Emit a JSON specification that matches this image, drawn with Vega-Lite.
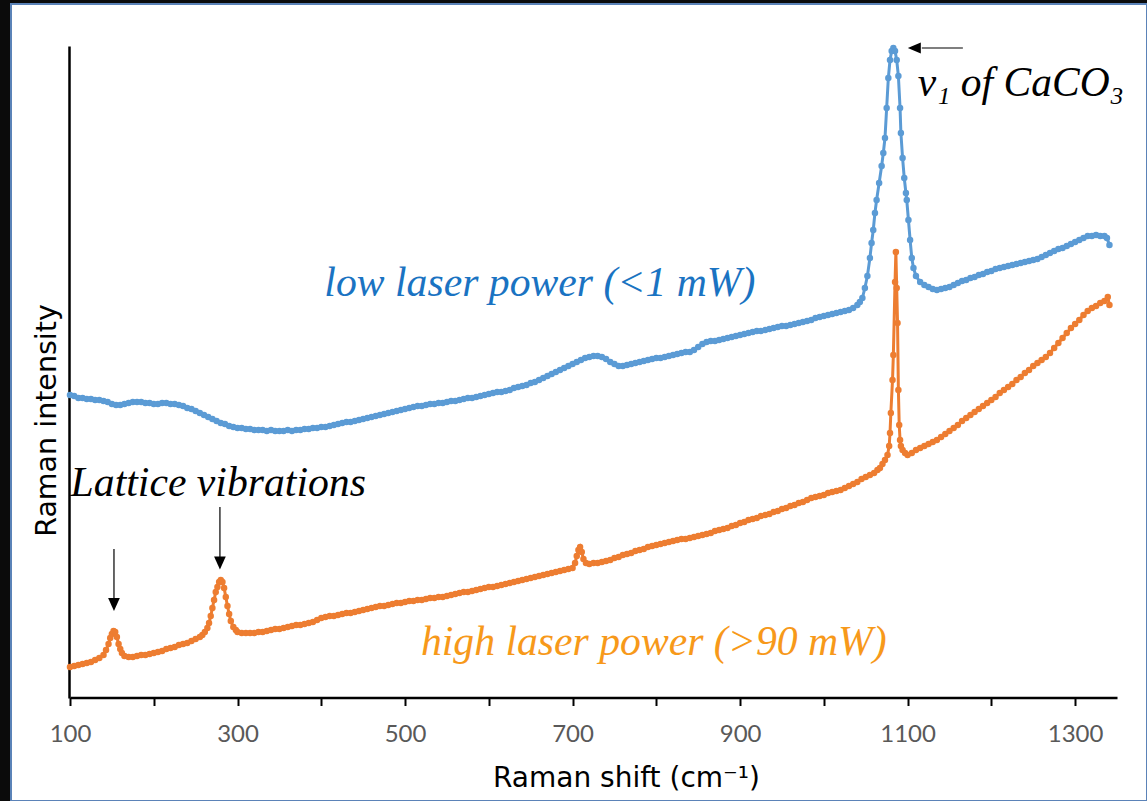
{
"$schema": "https://vega.github.io/schema/vega-lite/v6.json",
"width": 1136,
"height": 797,
"autosize": {"type": "none"},
"padding": {"left": 11, "top": 4, "right": 0, "bottom": 0},
"background": "#0b0b0b",
"config": {"view": {"fill": "white", "stroke": "#5B83B8", "strokeWidth": 2}},
"datasets": {
"low": [{"x":100,"y":303},{"x":105,"y":302},{"x":110,"y":300},{"x":115,"y":300},{"x":120,"y":299},{"x":125,"y":299},{"x":130,"y":298},{"x":135,"y":298},{"x":140,"y":297},{"x":145,"y":296},{"x":150,"y":294},{"x":155,"y":293},{"x":160,"y":293},{"x":165,"y":294},{"x":170,"y":295},{"x":175,"y":296},{"x":180,"y":296},{"x":185,"y":296},{"x":190,"y":295},{"x":195,"y":295},{"x":200,"y":294},{"x":205,"y":294},{"x":210,"y":295},{"x":215,"y":295},{"x":220,"y":294},{"x":225,"y":294},{"x":230,"y":293},{"x":235,"y":292},{"x":240,"y":290},{"x":245,"y":289},{"x":250,"y":287},{"x":255,"y":285},{"x":260,"y":283},{"x":265,"y":281},{"x":270,"y":279},{"x":275,"y":277},{"x":280,"y":275},{"x":285,"y":274},{"x":290,"y":272},{"x":295,"y":271},{"x":300,"y":270},{"x":305,"y":270},{"x":310,"y":269},{"x":315,"y":269},{"x":320,"y":268},{"x":325,"y":268},{"x":330,"y":268},{"x":335,"y":267},{"x":340,"y":268},{"x":345,"y":267},{"x":350,"y":267},{"x":355,"y":267},{"x":360,"y":268},{"x":365,"y":267},{"x":370,"y":268},{"x":375,"y":268},{"x":380,"y":269},{"x":385,"y":269},{"x":390,"y":270},{"x":395,"y":270},{"x":400,"y":271},{"x":405,"y":271},{"x":410,"y":272},{"x":415,"y":273},{"x":420,"y":274},{"x":425,"y":275},{"x":430,"y":276},{"x":435,"y":276},{"x":440,"y":277},{"x":445,"y":278},{"x":450,"y":279},{"x":455,"y":280},{"x":460,"y":281},{"x":465,"y":282},{"x":470,"y":283},{"x":475,"y":284},{"x":480,"y":285},{"x":485,"y":286},{"x":490,"y":287},{"x":495,"y":288},{"x":500,"y":289},{"x":505,"y":290},{"x":510,"y":291},{"x":515,"y":292},{"x":520,"y":292},{"x":525,"y":293},{"x":530,"y":294},{"x":535,"y":294},{"x":540,"y":295},{"x":545,"y":295},{"x":550,"y":296},{"x":555,"y":297},{"x":560,"y":297},{"x":565,"y":298},{"x":570,"y":299},{"x":575,"y":300},{"x":580,"y":300},{"x":585,"y":301},{"x":590,"y":302},{"x":595,"y":303},{"x":600,"y":304},{"x":605,"y":305},{"x":610,"y":306},{"x":615,"y":306},{"x":620,"y":307},{"x":625,"y":308},{"x":630,"y":310},{"x":635,"y":311},{"x":640,"y":312},{"x":645,"y":313},{"x":650,"y":315},{"x":655,"y":316},{"x":660,"y":318},{"x":665,"y":320},{"x":670,"y":322},{"x":675,"y":324},{"x":680,"y":326},{"x":685,"y":328},{"x":690,"y":330},{"x":695,"y":332},{"x":700,"y":334},{"x":705,"y":336},{"x":710,"y":338},{"x":715,"y":340},{"x":720,"y":341},{"x":725,"y":342},{"x":730,"y":342},{"x":735,"y":341},{"x":740,"y":339},{"x":745,"y":336},{"x":750,"y":334},{"x":755,"y":332},{"x":760,"y":332},{"x":765,"y":333},{"x":770,"y":334},{"x":775,"y":335},{"x":780,"y":336},{"x":785,"y":337},{"x":790,"y":338},{"x":795,"y":339},{"x":800,"y":340},{"x":805,"y":340},{"x":810,"y":341},{"x":815,"y":342},{"x":820,"y":343},{"x":825,"y":344},{"x":830,"y":345},{"x":835,"y":346},{"x":840,"y":346},{"x":845,"y":348},{"x":850,"y":351},{"x":855,"y":354},{"x":860,"y":356},{"x":865,"y":357},{"x":870,"y":357},{"x":875,"y":358},{"x":880,"y":359},{"x":885,"y":360},{"x":890,"y":361},{"x":895,"y":362},{"x":900,"y":363},{"x":905,"y":364},{"x":910,"y":365},{"x":915,"y":366},{"x":920,"y":367},{"x":925,"y":367},{"x":930,"y":368},{"x":935,"y":369},{"x":940,"y":370},{"x":945,"y":371},{"x":950,"y":372},{"x":955,"y":372},{"x":960,"y":373},{"x":965,"y":374},{"x":970,"y":375},{"x":975,"y":376},{"x":980,"y":377},{"x":985,"y":378},{"x":990,"y":380},{"x":995,"y":381},{"x":1000,"y":382},{"x":1005,"y":383},{"x":1010,"y":384},{"x":1015,"y":385},{"x":1020,"y":386},{"x":1025,"y":387},{"x":1030,"y":388},{"x":1035,"y":390},{"x":1040,"y":393},{"x":1043,"y":396},{"x":1046,"y":400},{"x":1049,"y":410},{"x":1052,"y":422},{"x":1055,"y":440},{"x":1057,"y":455},{"x":1059,"y":468},{"x":1061,"y":485},{"x":1063,"y":498},{"x":1066,"y":515},{"x":1069,"y":532},{"x":1071,"y":545},{"x":1073,"y":560},{"x":1075,"y":590},{"x":1077,"y":620},{"x":1079,"y":638},{"x":1081,"y":647},{"x":1083,"y":650},{"x":1085,"y":647},{"x":1087,"y":638},{"x":1089,"y":622},{"x":1091,"y":590},{"x":1092,"y":565},{"x":1094,"y":540},{"x":1096,"y":520},{"x":1098,"y":505},{"x":1099,"y":498},{"x":1101,"y":478},{"x":1103,"y":458},{"x":1105,"y":440},{"x":1107,"y":430},{"x":1110,"y":422},{"x":1115,"y":416},{"x":1120,"y":413},{"x":1125,"y":411},{"x":1130,"y":409},{"x":1135,"y":408},{"x":1140,"y":409},{"x":1145,"y":410},{"x":1150,"y":411},{"x":1155,"y":413},{"x":1160,"y":415},{"x":1165,"y":417},{"x":1170,"y":418},{"x":1175,"y":420},{"x":1180,"y":421},{"x":1185,"y":423},{"x":1190,"y":424},{"x":1195,"y":426},{"x":1200,"y":427},{"x":1205,"y":429},{"x":1210,"y":430},{"x":1215,"y":431},{"x":1220,"y":432},{"x":1225,"y":433},{"x":1230,"y":434},{"x":1235,"y":435},{"x":1240,"y":436},{"x":1245,"y":437},{"x":1250,"y":438},{"x":1255,"y":439},{"x":1260,"y":441},{"x":1265,"y":443},{"x":1270,"y":445},{"x":1275,"y":447},{"x":1280,"y":449},{"x":1285,"y":450},{"x":1290,"y":452},{"x":1295,"y":454},{"x":1300,"y":456},{"x":1305,"y":458},{"x":1310,"y":460},{"x":1315,"y":462},{"x":1320,"y":462},{"x":1325,"y":463},{"x":1330,"y":462},{"x":1335,"y":462},{"x":1338,"y":460},{"x":1341,"y":453}],
"high": [{"x":100,"y":31},{"x":105,"y":32},{"x":110,"y":33},{"x":115,"y":34},{"x":120,"y":35},{"x":125,"y":36},{"x":130,"y":38},{"x":135,"y":40},{"x":140,"y":43},{"x":143,"y":48},{"x":146,"y":54},{"x":148,"y":60},{"x":150,"y":64},{"x":152,"y":67},{"x":154,"y":66},{"x":156,"y":61},{"x":158,"y":54},{"x":160,"y":49},{"x":162,"y":45},{"x":165,"y":42},{"x":170,"y":41},{"x":175,"y":41},{"x":180,"y":42},{"x":185,"y":43},{"x":190,"y":43},{"x":195,"y":44},{"x":200,"y":45},{"x":205,"y":46},{"x":210,"y":47},{"x":215,"y":49},{"x":220,"y":50},{"x":225,"y":51},{"x":230,"y":53},{"x":235,"y":54},{"x":240,"y":55},{"x":245,"y":57},{"x":250,"y":59},{"x":255,"y":61},{"x":258,"y":63},{"x":261,"y":66},{"x":264,"y":70},{"x":266,"y":75},{"x":268,"y":82},{"x":270,"y":90},{"x":272,"y":98},{"x":274,"y":106},{"x":276,"y":111},{"x":278,"y":116},{"x":280,"y":118},{"x":282,"y":116},{"x":284,"y":110},{"x":286,"y":101},{"x":288,"y":92},{"x":290,"y":84},{"x":292,"y":77},{"x":295,"y":71},{"x":298,"y":68},{"x":300,"y":66},{"x":305,"y":65},{"x":310,"y":65},{"x":315,"y":65},{"x":320,"y":65},{"x":325,"y":66},{"x":330,"y":66},{"x":335,"y":67},{"x":340,"y":68},{"x":345,"y":69},{"x":350,"y":69},{"x":355,"y":70},{"x":360,"y":71},{"x":365,"y":72},{"x":370,"y":73},{"x":375,"y":73},{"x":380,"y":74},{"x":385,"y":75},{"x":390,"y":76},{"x":395,"y":78},{"x":400,"y":80},{"x":405,"y":81},{"x":410,"y":82},{"x":415,"y":82},{"x":420,"y":83},{"x":425,"y":84},{"x":430,"y":85},{"x":435,"y":85},{"x":440,"y":86},{"x":445,"y":87},{"x":450,"y":88},{"x":455,"y":89},{"x":460,"y":90},{"x":465,"y":91},{"x":470,"y":92},{"x":475,"y":92},{"x":480,"y":93},{"x":485,"y":94},{"x":490,"y":95},{"x":495,"y":95},{"x":500,"y":96},{"x":505,"y":97},{"x":510,"y":97},{"x":515,"y":98},{"x":520,"y":98},{"x":525,"y":99},{"x":530,"y":100},{"x":535,"y":100},{"x":540,"y":101},{"x":545,"y":101},{"x":550,"y":102},{"x":555,"y":103},{"x":560,"y":104},{"x":565,"y":105},{"x":570,"y":106},{"x":575,"y":106},{"x":580,"y":107},{"x":585,"y":108},{"x":590,"y":109},{"x":595,"y":110},{"x":600,"y":111},{"x":605,"y":111},{"x":610,"y":112},{"x":615,"y":113},{"x":620,"y":114},{"x":625,"y":115},{"x":630,"y":116},{"x":635,"y":117},{"x":640,"y":118},{"x":645,"y":119},{"x":650,"y":120},{"x":655,"y":121},{"x":660,"y":122},{"x":665,"y":123},{"x":670,"y":124},{"x":675,"y":125},{"x":680,"y":126},{"x":685,"y":127},{"x":690,"y":128},{"x":695,"y":129},{"x":700,"y":130},{"x":703,"y":135},{"x":705,"y":142},{"x":707,"y":148},{"x":709,"y":151},{"x":711,"y":146},{"x":713,"y":139},{"x":716,"y":135},{"x":720,"y":134},{"x":725,"y":135},{"x":730,"y":135},{"x":735,"y":136},{"x":740,"y":137},{"x":745,"y":138},{"x":750,"y":140},{"x":755,"y":141},{"x":760,"y":143},{"x":765,"y":144},{"x":770,"y":145},{"x":775,"y":147},{"x":780,"y":148},{"x":785,"y":149},{"x":790,"y":151},{"x":795,"y":152},{"x":800,"y":153},{"x":805,"y":154},{"x":810,"y":155},{"x":815,"y":156},{"x":820,"y":157},{"x":825,"y":158},{"x":830,"y":159},{"x":835,"y":159},{"x":840,"y":160},{"x":845,"y":161},{"x":850,"y":162},{"x":855,"y":163},{"x":860,"y":164},{"x":865,"y":165},{"x":870,"y":167},{"x":875,"y":168},{"x":880,"y":169},{"x":885,"y":170},{"x":890,"y":172},{"x":895,"y":173},{"x":900,"y":175},{"x":905,"y":176},{"x":910,"y":178},{"x":915,"y":179},{"x":920,"y":180},{"x":925,"y":182},{"x":930,"y":183},{"x":935,"y":184},{"x":940,"y":186},{"x":945,"y":187},{"x":950,"y":189},{"x":955,"y":190},{"x":960,"y":192},{"x":965,"y":193},{"x":970,"y":195},{"x":975,"y":196},{"x":980,"y":198},{"x":985,"y":200},{"x":990,"y":201},{"x":995,"y":202},{"x":1000,"y":203},{"x":1005,"y":205},{"x":1010,"y":206},{"x":1015,"y":207},{"x":1020,"y":208},{"x":1025,"y":210},{"x":1030,"y":212},{"x":1035,"y":214},{"x":1040,"y":216},{"x":1045,"y":219},{"x":1050,"y":221},{"x":1055,"y":223},{"x":1060,"y":225},{"x":1064,"y":228},{"x":1067,"y":230},{"x":1070,"y":234},{"x":1073,"y":238},{"x":1076,"y":243},{"x":1078,"y":252},{"x":1079,"y":265},{"x":1080,"y":285},{"x":1082,"y":318},{"x":1083,"y":343},{"x":1085,"y":416},{"x":1086,"y":446},{"x":1087,"y":410},{"x":1088,"y":375},{"x":1089,"y":308},{"x":1090,"y":273},{"x":1091,"y":258},{"x":1092,"y":252},{"x":1094,"y":248},{"x":1097,"y":245},{"x":1100,"y":243},{"x":1105,"y":245},{"x":1110,"y":248},{"x":1115,"y":250},{"x":1120,"y":252},{"x":1125,"y":254},{"x":1130,"y":256},{"x":1135,"y":258},{"x":1140,"y":261},{"x":1145,"y":264},{"x":1150,"y":267},{"x":1155,"y":270},{"x":1160,"y":273},{"x":1165,"y":277},{"x":1170,"y":280},{"x":1175,"y":283},{"x":1180,"y":286},{"x":1185,"y":289},{"x":1190,"y":292},{"x":1195,"y":295},{"x":1200,"y":298},{"x":1205,"y":301},{"x":1210,"y":305},{"x":1215,"y":308},{"x":1220,"y":311},{"x":1225,"y":314},{"x":1230,"y":318},{"x":1235,"y":321},{"x":1240,"y":325},{"x":1245,"y":328},{"x":1250,"y":332},{"x":1255,"y":335},{"x":1260,"y":338},{"x":1265,"y":341},{"x":1270,"y":345},{"x":1275,"y":350},{"x":1280,"y":355},{"x":1285,"y":360},{"x":1290,"y":365},{"x":1295,"y":370},{"x":1300,"y":374},{"x":1305,"y":378},{"x":1310,"y":383},{"x":1315,"y":387},{"x":1320,"y":390},{"x":1325,"y":392},{"x":1330,"y":395},{"x":1335,"y":397},{"x":1339,"y":401},{"x":1341,"y":393}]
},
"encoding": {
"x": {"field": "x", "type": "quantitative",
"scale": {"domain": [100, 1350], "range": [59, 1106], "nice": false, "zero": false},
"axis": {"title": "Raman shift (cm⁻¹)", "values": [100,200,300,400,500,600,700,800,900,1000,1100,1200,1300], "format": "d",
"labelExpr": "datum.value % 200 == 100 ? datum.label : ''",
"offset": -103.5, "grid": false, "domainColor": "black", "domainWidth": 2.5,
"tickColor": "black", "tickWidth": 2, "tickSize": 8,
"labelFont": "Lato", "labelFontSize": 24, "labelColor": "#595959", "labelBaseline": "alphabetic", "labelPadding": 36, "labelFlush": false, "labelOverlap": false,
"titleFont": "DejaVu Sans", "titleFontSize": 28, "titleFontWeight": "normal", "titleColor": "black",
"titleX": 615, "titleY": 88.5, "titleBaseline": "alphabetic", "titleAlign": "center"}},
"y": {"field": "y", "type": "quantitative",
"scale": {"domain": [0, 652], "range": [694, 42], "nice": false, "zero": false},
"axis": {"title": "Raman intensity", "offset": -58, "ticks": false, "labels": false, "grid": false,
"domainColor": "black", "domainWidth": 2.5,
"titleFont": "DejaVu Sans", "titleFontSize": 28.5, "titleFontWeight": "normal", "titleColor": "black",
"titleAngle": -90, "titleX": -23, "titleY": 416, "titleBaseline": "middle", "titleAlign": "center"}}
},
"layer": [
{
"data": {"name": "low"},
"mark": {"type": "line", "strokeWidth": 3, "color": "#5B9BD5", "point": {"filled": true, "size": 42, "color": "#5B9BD5", "opacity": 1}}
},
{
"data": {"name": "high"},
"mark": {"type": "line", "strokeWidth": 3, "color": "#ED7D31", "point": {"filled": true, "size": 42, "color": "#ED7D31", "opacity": 1}}
},
{
"data": {"values": [{"x": 661, "y": 402, "t": "low laser power (<1 mW)"}]},
"mark": {"type": "text", "font": "Liberation Serif", "fontStyle": "italic", "fontSize": 41.7, "color": "#1A73C2", "align": "center", "baseline": "alphabetic"},
"encoding": {"text": {"field": "t"}}
},
{
"data": {"values": [{"x": 797, "y": 43, "t": "high laser power (>90 mW)"}]},
"mark": {"type": "text", "font": "Liberation Serif", "fontStyle": "italic", "fontSize": 41.7, "color": "#F7991A", "align": "center", "baseline": "alphabetic"},
"encoding": {"text": {"field": "t"}}
},
{
"data": {"values": [{"x": 277, "y": 202, "t": "Lattice vibrations"}]},
"mark": {"type": "text", "font": "Liberation Serif", "fontStyle": "italic", "fontSize": 41.7, "color": "black", "align": "center", "baseline": "alphabetic"},
"encoding": {"text": {"field": "t"}}
},
{
"data": {"values": [{"x": 1112, "y": 602, "t": "ν₁ of CaCO₃"}]},
"mark": {"type": "text", "font": "Liberation Serif", "fontStyle": "italic", "fontSize": 41.5, "color": "black", "align": "left", "baseline": "alphabetic"},
"encoding": {"text": {"field": "t"}}
},
{
"data": {"values": [{"x": 1117, "x2": 1166, "y": 650, "y2": 650}, {"x": 152.5, "x2": 152.5, "y": 149, "y2": 100}, {"x": 279, "x2": 279, "y": 191, "y2": 141}]},
"mark": {"type": "rule", "color": "black", "strokeWidth": 1.2},
"encoding": {"x2": {"field": "x2"}, "y2": {"field": "y2"}}
},
{
"data": {"values": [{"x": 1108, "y": 650}]},
"mark": {"type": "point", "shape": "M-1,0L1,-0.85L1,0.85Z", "size": 169, "filled": true, "color": "black", "opacity": 1},
"encoding": {}
},
{
"data": {"values": [{"x": 152.5, "y": 93.5}, {"x": 279, "y": 135}]},
"mark": {"type": "point", "shape": "M0,1L-0.9,-1L0.9,-1Z", "size": 169, "filled": true, "color": "black", "opacity": 1},
"encoding": {}
}
]
}
